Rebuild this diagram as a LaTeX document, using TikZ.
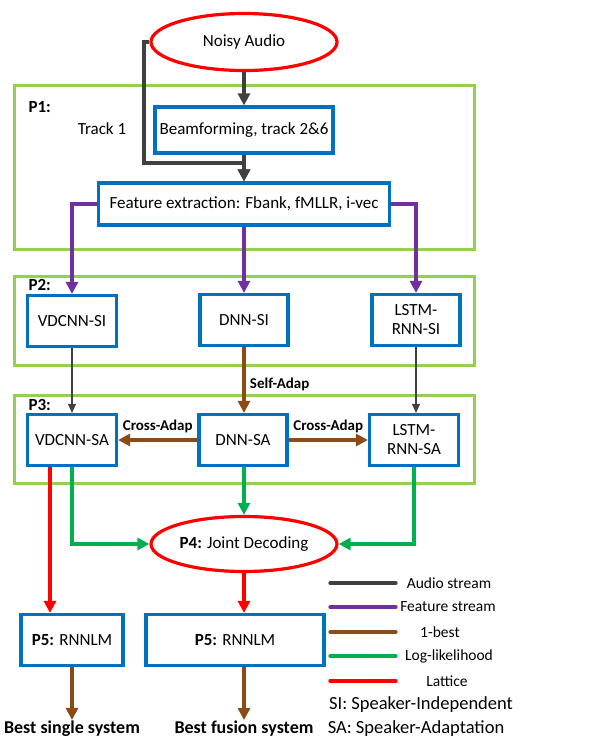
\documentclass[tikz,border=0pt]{standalone}
\usepackage{fontspec}
\setmainfont{Carlito}
\usetikzlibrary{shapes.geometric, arrows.meta}

\definecolor{stagegreen}{RGB}{146,208,80}
\definecolor{blockblue}{RGB}{0,112,192}
\definecolor{audiogray}{RGB}{64,64,64}
\definecolor{featpurple}{RGB}{112,48,160}
\definecolor{bestbrown}{RGB}{140,75,20}
\definecolor{loggreen}{RGB}{0,176,80}

\begin{document}
\begin{tikzpicture}[
    x=1pt, y=-1pt,
    every node/.style={font=\fontsize{17}{19}\selectfont},
    stage/.style={draw=stagegreen, line width=3pt, minimum width=460pt},
    block/.style={draw=blockblue, line width=3.2pt, fill=white, align=center, inner sep=0pt},
    oval/.style={ellipse, draw=red, line width=3.2pt, fill=white, inner sep=0pt},
    lbl/.style={font=\bfseries\fontsize{15}{17}\selectfont},
    head/.style={font=\bfseries\fontsize{17}{19}\selectfont},
    arr/.style={-{Triangle[length=12pt, width=12pt]}},
    audioline/.style={draw=audiogray, line width=3.2pt},
    thinline/.style={draw=audiogray, line width=1.3pt, -{Triangle[length=9pt, width=8pt]}},
    featline/.style={draw=featpurple, line width=3.2pt},
    bestline/.style={draw=bestbrown, line width=3.2pt},
    logline/.style={draw=loggreen, line width=3.2pt},
    latline/.style={draw=red, line width=3.2pt},
    ]
    \useasboundingbox (0,0) rectangle (590,740);

    % stages
    \node [stage, minimum height=164pt] (p1) at (244,167) {};
    \node [stage, minimum height=89pt] (p2) at (244,320.5) {};
    \node [stage, minimum height=88pt] (p3) at (244,439) {};
    \node [head, anchor=west] (p1lbl) at (25,107) {P1:};
    \node [head, anchor=west] (p2lbl) at (25,285) {P2:};
    \node [head, anchor=west] (p3lbl) at (25,405) {P3:};

    % blocks
    \node [oval, minimum width=186pt, minimum height=57pt] (audio) at (244,42) {Noisy Audio};
    \node [block, minimum width=178pt, minimum height=46pt] (beam) at (244,130) {Beamforming, track 2\&6};
    \node (track) at (102,129) {Track 1};
    \node [block, minimum width=291pt, minimum height=42pt] (feat) at (244,204) {Feature extraction: Fbank, fMLLR, i-vec};
    \node [block, minimum width=89pt, minimum height=51pt] (vdsi) at (72,321) {VDCNN-SI};
    \node [block, minimum width=88pt, minimum height=51pt] (dnnsi) at (244,320) {DNN-SI};
    \node [block, minimum width=88pt, minimum height=51pt] (lstmsi) at (416,320) {LSTM-\\RNN-SI};
    \node [block, minimum width=89pt, minimum height=51pt] (vdsa) at (72,440) {VDCNN-SA};
    \node [block, minimum width=88pt, minimum height=51pt] (dnnsa) at (243,440) {DNN-SA};
    \node [block, minimum width=89pt, minimum height=51pt] (lstmsa) at (414,440) {LSTM-\\RNN-SA};
    \node [oval, minimum width=186pt, minimum height=55pt] (joint) at (244,544) {\textbf{P4:} Joint Decoding};
    \node [block, minimum width=102pt, minimum height=51pt] (p5a) at (72,640) {\textbf{P5:} RNNLM};
    \node [block, minimum width=178pt, minimum height=51pt] (p5b) at (235,640) {\textbf{P5:} RNNLM};
    \node [head, font=\bfseries\fontsize{18}{20}\selectfont, inner sep=1pt] (single) at (72,729) {Best single system};
    \node [head, font=\bfseries\fontsize{18}{20}\selectfont, inner sep=1pt] (fusion) at (244,729) {Best fusion system};

    % audio stream
    \coordinate (bend) at (144,163);
    \draw [audioline, arr] (audio.west) -| (bend) -| (feat.north);
    \draw [audioline, arr] (audio.south) -- (beam.north);
    \draw [audioline, arr] (beam.south) -- (feat.north);

    % feature stream
    \draw [featline, arr] (feat.west) -| (vdsi.north);
    \draw [featline, arr] (feat.south) -- (feat.south |- dnnsi.north);
    \draw [featline, arr] (feat.east) -| (lstmsi.north);

    % adaptation
    \draw [thinline] (vdsi.south) -- (vdsa.north);
    \draw [thinline] (lstmsi.south) -- (lstmsi.south |- lstmsa.north);
    \draw [bestline, arr] (dnnsi.south) -- (dnnsi.south |- dnnsa.north)
        node [lbl, midway, right, xshift=1pt, yshift=-4pt] {Self-Adap};
    \draw [bestline, arr] (dnnsa.west) -- (vdsa.east)
        node [lbl, midway, above, yshift=2pt] {Cross-Adap};
    \draw [bestline, arr] (dnnsa.east) -- (lstmsa.west)
        node [lbl, midway, above, yshift=2pt] {Cross-Adap};

    % decoding
    \draw [logline, arr] (vdsa.south) |- (joint.west);
    \draw [logline, arr] (dnnsa.south -| joint.north) -- (joint.north);
    \draw [logline, arr] (lstmsa.south) |- (joint.east);
    \draw [latline, arr] ([xshift=-22pt]vdsa.south) -- ([xshift=-22pt]p5a.north);
    \draw [latline, arr] (joint.south) -- (joint.south |- p5b.north);

    % rescoring
    \draw [bestline, arr] (p5a.south) -- (single.north);
    \draw [bestline, arr] (p5b.south -| fusion.north) -- (fusion.north);

    % legend
    \foreach \y/\sty/\txt/\cx [count=\i] in {583/audioline/Audio stream/449, 607/featline/Feature stream/448,
        632/bestline/1-best/440, 656/logline/Log-likelihood/449, 681/latline/Lattice/447} {
        \draw [\sty, line cap=round] (330,\y) -- (396,\y);
        \node [font=\fontsize{15.5}{17}\selectfont] (leg\i) at (\cx,\y) {\txt};
    }
    \node [font=\fontsize{18.5}{20}\selectfont] (si) at (421,705) {SI: Speaker-Independent};
    \node [font=\fontsize{18.5}{20}\selectfont] (sa) at (416,729) {SA: Speaker-Adaptation};
\end{tikzpicture}
\end{document}
